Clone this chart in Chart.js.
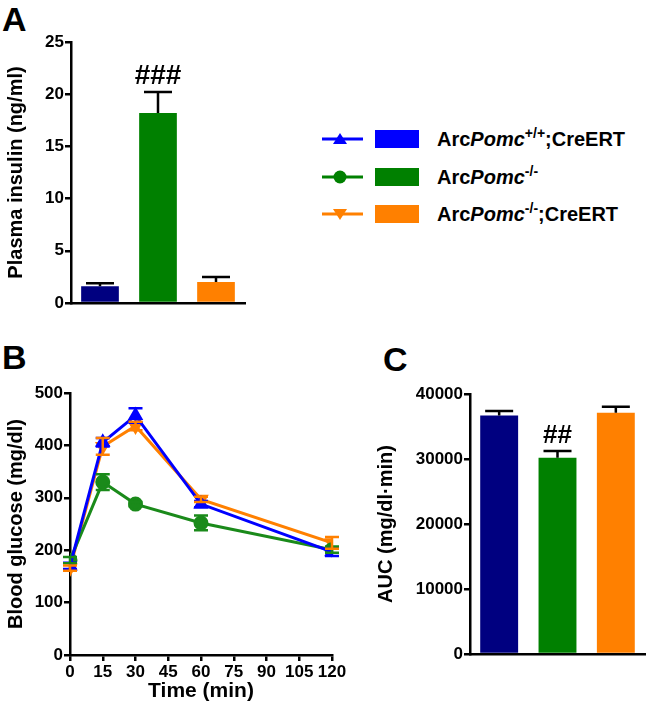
<!DOCTYPE html>
<html>
<head>
<meta charset="utf-8">
<script src="https://cdn.jsdelivr.net/npm/chart.js@4/dist/chart.umd.min.js"></script>
<style>
  body { margin: 0; background: #fff; }
  #page { position: relative; width: 653px; height: 709px; overflow: hidden; font-family: "Liberation Sans", Arial, sans-serif; }
  canvas { position: absolute; }
  .panel { position: absolute; font-weight: bold; font-size: 34px; line-height: 34px; color: #000; }
  .leg { position: absolute; left: 322px; height: 20px; font-weight: bold; font-size: 20px; color: #000; }
  .leg svg { position: absolute; left: 0; top: 0; }
  .leg .box { position: absolute; left: 53px; top: 1px; width: 44px; height: 18px; }
  .leg .txt { position: absolute; left: 115px; top: -2px; white-space: nowrap; line-height: 24px; }
  .leg sup { font-size: 14px; vertical-align: 8px; line-height: 0; }
</style>
</head>
<body>
<div id="page">
  <div class="panel" style="left:2px;top:2px;">A</div>
  <div class="panel" style="left:2px;top:340px;">B</div>
  <div class="panel" style="left:383px;top:342px;">C</div>

  <canvas id="chartA" width="260" height="330" style="left:0;top:0;"></canvas>
  <canvas id="chartB" width="350" height="369" style="left:0;top:340px;"></canvas>
  <canvas id="chartC" width="283" height="369" style="left:370px;top:340px;"></canvas>

  <div class="leg" style="top:129px;">
    <svg width="42" height="20"><line x1="0" y1="10" x2="41" y2="10" stroke="#0000ff" stroke-width="3"/><polygon points="18,4 25,15 11,15" fill="#0000ff"/></svg>
    <div class="box" style="background:#0000ff"></div>
    <div class="txt">Arc<i>Pomc</i><sup>+/+</sup>;CreERT</div>
  </div>
  <div class="leg" style="top:167px;">
    <svg width="42" height="20"><line x1="0" y1="10" x2="41" y2="10" stroke="#008000" stroke-width="3"/><circle cx="18" cy="10" r="6.5" fill="#008000"/></svg>
    <div class="box" style="background:#008000"></div>
    <div class="txt">Arc<i>Pomc</i><sup>-/-</sup></div>
  </div>
  <div class="leg" style="top:204px;">
    <svg width="42" height="20"><line x1="0" y1="10" x2="41" y2="10" stroke="#ff8000" stroke-width="3"/><polygon points="11,5 25,5 18,16" fill="#ff8000"/></svg>
    <div class="box" style="background:#ff8000"></div>
    <div class="txt">Arc<i>Pomc</i><sup>-/-</sup>;CreERT</div>
  </div>
</div>

<script>
// groups
const groups = ['ArcPomc+/+;CreERT', 'ArcPomc-/-', 'ArcPomc-/-;CreERT'];
const barColors = ['#000080', '#008000', '#ff8000'];
const lineColors = ['#0000ff', '#1a8a1a', '#ff8000'];

// A: plasma insulin (ng/ml)
const insulin = [1.6, 18.2, 2.0];
const insulinErr = [0.3, 2.0, 0.5];
const insulinMarks = ['', '###', ''];
const insulinTicks = [0, 5, 10, 15, 20, 25];

// B: blood glucose (mg/dl) over time
const times = [0, 15, 30, 60, 120];
const glucoseWT = [170, 406, 457, 288, 197];
const glucoseWTErr = [6, 8, 14, 6, 8];
const glucoseKO = [181, 330, 288, 252, 201];
const glucoseKOErr = [6, 15, 4, 14, 6];
const glucoseRescue = [166, 398, 437, 297, 214];
const glucoseRescueErr = [5, 16, 8, 5, 11];
const timeTicks = [0, 15, 30, 45, 60, 75, 90, 105, 120];
const glucoseTicks = [0, 100, 200, 300, 400, 500];

// C: AUC (mg/dl·min)
const auc = [36700, 30200, 37100];
const aucErr = [700, 1050, 950];
const aucMarks = ['', '##', ''];
const aucTicks = [0, 10000, 20000, 30000, 40000];

const FONT = "'Liberation Sans', Arial, sans-serif";
const tickFont = { family: FONT, size: 17, weight: 'bold' };
const titleFont = { family: FONT, size: 20, weight: 'bold' };

// draws SEM bars (and the ### marks) from the data values
const errorBars = {
    id: 'errorBars',
    afterDatasetsDraw(chart) {
        const ctx = chart.ctx;
        const ys = chart.scales.y;
        const isLine = chart.config.type === 'line';
        chart.data.datasets.forEach(function (ds, i) {
            if (!ds.errors) return;
            const meta = chart.getDatasetMeta(i);
            meta.data.forEach(function (el, j) {
                const raw = ds.data[j];
                const v = (typeof raw === 'object') ? raw.y : raw;
                const e = ds.errors[j];
                const x = el.x;
                const yTop = ys.getPixelForValue(v + e);
                const yBot = isLine ? ys.getPixelForValue(v - e) : ys.getPixelForValue(v);
                const cap = ds.capWidth || 14;
                ctx.save();
                ctx.strokeStyle = ds.errorColor || '#000';
                ctx.lineWidth = isLine ? 2.5 : 2.5;
                ctx.beginPath();
                ctx.moveTo(x, yBot);
                ctx.lineTo(x, yTop);
                ctx.moveTo(x - cap / 2, yTop);
                ctx.lineTo(x + cap / 2, yTop);
                if (isLine) {
                    ctx.moveTo(x - cap / 2, yBot);
                    ctx.lineTo(x + cap / 2, yBot);
                }
                ctx.stroke();
                if (ds.marks && ds.marks[j]) {
                    ctx.fillStyle = '#000';
                    ctx.font = 'bold ' + (ds.markSize || 24) + 'px ' + FONT;
                    ctx.textAlign = 'center';
                    ctx.textBaseline = 'alphabetic';
                    ctx.fillText(ds.marks[j], x, yTop - 8);
                }
                ctx.restore();
            });
        });
    }
};

function yAxis(min, max, ticks, title, width) {
    return {
        min: min, max: max,
        afterBuildTicks: function (s) { s.ticks = ticks.map(function (t) { return { value: t }; }); },
        afterFit: function (s) { s.width = width; },
        ticks: { color: '#000', font: tickFont, padding: 1, callback: function (v) { return String(v); } },
        grid: { drawOnChartArea: false, drawTicks: true, tickLength: 6, color: '#000', lineWidth: 2.5 },
        border: { color: '#000', width: 2.5 },
        title: { display: true, text: title, color: '#000', font: titleFont, padding: { top: 0, bottom: 0 } }
    };
}

// A
new Chart('chartA', {
    type: 'bar',
    data: {
        labels: groups,
        datasets: [{
            data: insulin,
            errors: insulinErr,
            marks: insulinMarks,
            markSize: 28,
            capWidth: 28,
            backgroundColor: barColors,
            barPercentage: 0.65,
            categoryPercentage: 1
        }]
    },
    options: {
        responsive: false,
        animation: false,
        layout: { padding: { top: 42, right: 15, left: 4, bottom: 0 } },
        plugins: { legend: { display: false }, tooltip: { enabled: false } },
        scales: {
            x: {
                ticks: { display: false },
                grid: { display: false },
                border: { color: '#000', width: 2.5 },
                afterFit: function (s) { s.height = 27; }
            },
            y: yAxis(0, 25, insulinTicks, 'Plasma insulin (ng/ml)', 67)
        }
    },
    plugins: [errorBars]
});

// B
function series(vals) {
    return times.map(function (t, k) { return { x: t, y: vals[k] }; });
}
const lineSets = [
    { vals: glucoseWT, err: glucoseWTErr, color: lineColors[0], style: 'triangle', rot: 0 },
    { vals: glucoseKO, err: glucoseKOErr, color: lineColors[1], style: 'circle', rot: 0 },
    { vals: glucoseRescue, err: glucoseRescueErr, color: lineColors[2], style: 'triangle', rot: 180 }
];
new Chart('chartB', {
    type: 'line',
    data: {
        datasets: lineSets.map(function (s) {
            return {
                data: series(s.vals),
                errors: s.err,
                errorColor: s.color,
                capWidth: 14,
                borderColor: s.color,
                backgroundColor: s.color,
                borderWidth: 3,
                pointStyle: s.style,
                pointRotation: s.rot,
                pointRadius: 6,
                tension: 0
            };
        })
    },
    options: {
        responsive: false,
        animation: false,
        layout: { padding: { top: 53, right: 18, left: 4, bottom: 0 } },
        plugins: { legend: { display: false }, tooltip: { enabled: false } },
        scales: {
            x: {
                type: 'linear',
                min: 0, max: 120,
                afterBuildTicks: function (s) { s.ticks = timeTicks.map(function (t) { return { value: t }; }); },
                afterFit: function (s) { s.height = 54; },
                ticks: { color: '#000', font: tickFont, padding: 1, maxRotation: 0, autoSkip: false },
                grid: { drawOnChartArea: false, drawTicks: true, tickLength: 6, color: '#000', lineWidth: 2.5 },
                border: { color: '#000', width: 2.5 },
                title: { display: true, text: 'Time (min)', color: '#000', font: { family: FONT, size: 21, weight: 'bold' }, padding: { top: 0, bottom: 5 } }
            },
            y: yAxis(0, 500, glucoseTicks, 'Blood glucose (mg/dl)', 66)
        }
    },
    plugins: [errorBars]
});

// C
new Chart('chartC', {
    type: 'bar',
    data: {
        labels: groups,
        datasets: [{
            data: auc,
            errors: aucErr,
            marks: aucMarks,
            markSize: 26,
            capWidth: 28,
            backgroundColor: barColors,
            barPercentage: 0.65,
            categoryPercentage: 1
        }]
    },
    options: {
        responsive: false,
        animation: false,
        layout: { padding: { top: 54, right: 8, left: 4, bottom: 0 } },
        plugins: { legend: { display: false }, tooltip: { enabled: false } },
        scales: {
            x: {
                ticks: { display: false },
                grid: { display: false },
                border: { color: '#000', width: 2.5 },
                afterFit: function (s) { s.height = 55; }
            },
            y: yAxis(0, 40000, aucTicks, 'AUC (mg/dl\u00b7min)', 96)
        }
    },
    plugins: [errorBars]
});
</script>
</body>
</html>
